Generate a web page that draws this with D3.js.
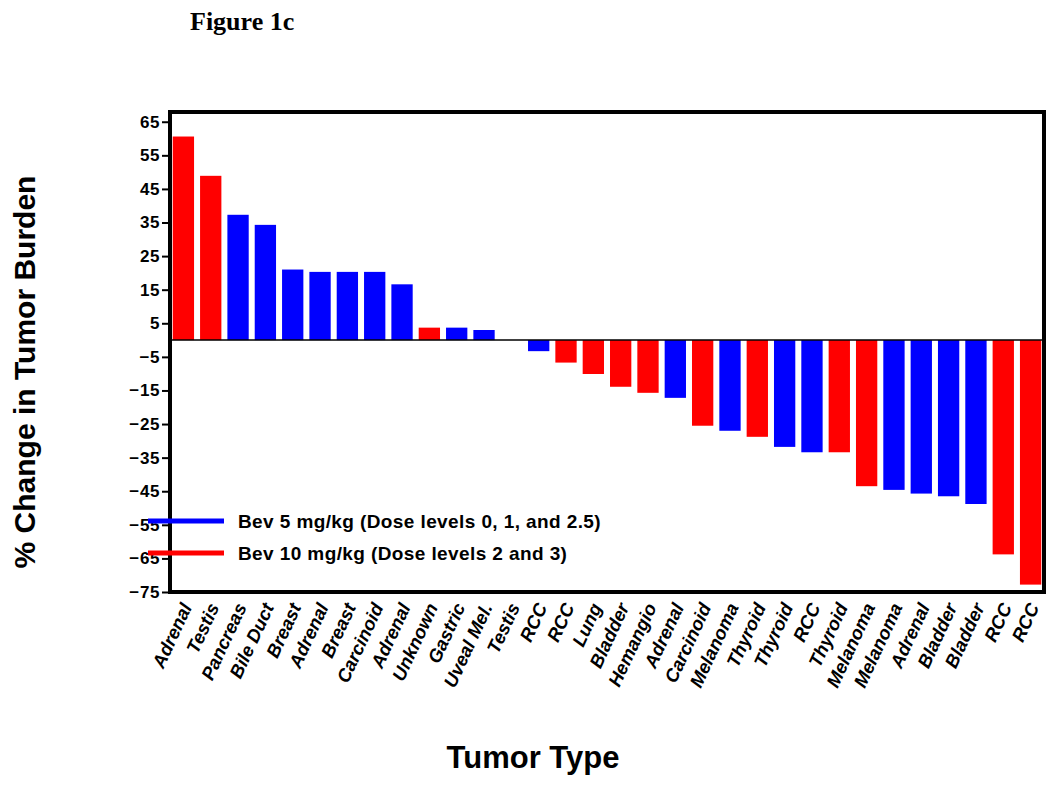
<!DOCTYPE html>
<html><head><meta charset="utf-8">
<script src="https://cdn.jsdelivr.net/npm/d3@7"></script>
<style>body{margin:0;background:#fff}svg{display:block}</style>
</head><body>
<script>
const categories = ["Adrenal","Testis","Pancreas","Bile Duct","Breast","Adrenal","Breast","Carcinoid","Adrenal","Unknown","Gastric","Uveal Mel.","Testis","RCC","RCC","Lung","Bladder","Hemangio","Adrenal","Carcinoid","Melanoma","Thyroid","Thyroid","RCC","Thyroid","Melanoma","Melanoma","Adrenal","Bladder","Bladder","RCC","RCC"];
const values = [60.6,48.9,37.3,34.3,21.0,20.3,20.3,20.3,16.6,3.7,3.7,3.0,0,-3.3,-6.7,-10.1,-13.9,-15.7,-17.2,-25.5,-27.0,-28.8,-31.8,-33.4,-33.4,-43.5,-44.6,-45.7,-46.5,-48.8,-63.8,-72.8];
const groups = ["R","R","B","B","B","B","B","B","B","R","B","B","R","B","R","R","R","R","B","R","B","R","B","B","R","R","B","B","B","B","R","R"];
const yTicks = [65,55,45,35,25,15,5,-5,-15,-25,-35,-45,-55,-65,-75];
const legendLabels = ["Bev 5 mg/kg (Dose levels 0, 1, and 2.5)","Bev 10 mg/kg (Dose levels 2 and 3)"];
const legendKeys = ["B","R"];

const color = {B:"#0000ff", R:"#ff0000"};
const W=1050,H=786;
const font = "Liberation Sans, Arial, sans-serif";
const svg = d3.select("body").append("svg").attr("width",W).attr("height",H);
const L=170,R=1044,T=112,B=592;
const x = d3.scaleBand().domain(d3.range(categories.length)).range([L,R]).paddingInner(0.22).paddingOuter(0.1);
const y = d3.scaleLinear().domain([-75,67.9]).range([B,T]);

svg.append("text").attr("x",190).attr("y",30).attr("font-family","Liberation Serif, Times New Roman, serif")
  .attr("font-weight","bold").attr("font-size",26).text("Figure 1c");

// bars
svg.append("g").selectAll("rect").data(values).join("rect")
  .attr("x",(d,i)=>x(i)).attr("width",x.bandwidth())
  .attr("y",d=>y(Math.max(0,d))).attr("height",d=>Math.abs(y(d)-y(0)))
  .attr("fill",(d,i)=>color[groups[i]]);

// zero line
svg.append("line").attr("x1",L).attr("x2",R).attr("y1",y(0)).attr("y2",y(0)).attr("stroke","#000").attr("stroke-width",1.5);

// frame
svg.append("rect").attr("x",L).attr("y",T).attr("width",R-L).attr("height",B-T)
  .attr("fill","none").attr("stroke","#000").attr("stroke-width",4);

// y axis
const yAxis = svg.append("g").attr("transform",`translate(${L},0)`)
  .call(d3.axisLeft(y).tickValues(yTicks).tickSize(8).tickPadding(2).tickFormat(d=>d<0?"\u2212"+(-d):d));
yAxis.select(".domain").remove();
yAxis.selectAll("line").attr("stroke","#000").attr("stroke-width",2);
yAxis.selectAll("text").attr("font-family",font).attr("font-weight","bold")
  .attr("font-size",17).attr("fill","#000").attr("letter-spacing",0.6);

// x axis labels
const xAxis = svg.append("g").attr("transform",`translate(0,${B})`)
  .call(d3.axisBottom(x).tickSize(0).tickFormat(i=>categories[i]));
xAxis.select(".domain").remove();
xAxis.selectAll("text").attr("font-family",font).attr("font-weight","bold")
  .attr("font-style","italic").attr("font-size",18.5).attr("fill","#000")
  .attr("text-anchor","end").attr("dy",0).attr("y",0)
  .attr("transform","translate(9,15) rotate(-65)");

// legend
legendLabels.forEach((lab,i)=>{
  const yy = 521 + i*32;
  svg.append("line").attr("x1",148).attr("x2",224).attr("y1",yy).attr("y2",yy)
    .attr("stroke",color[legendKeys[i]]).attr("stroke-width",5);
  svg.append("text").attr("x",238).attr("y",yy+6.5).attr("font-family",font)
    .attr("font-weight","bold").attr("font-size",19).attr("letter-spacing",0.4).text(lab);
});

// axis titles
svg.append("text").attr("transform","translate(35,372) rotate(-90)").attr("text-anchor","middle")
  .attr("font-family",font).attr("font-weight","bold").attr("font-size",30)
  .text("% Change in Tumor Burden");
svg.append("text").attr("x",533).attr("y",768).attr("text-anchor","middle")
  .attr("font-family",font).attr("font-weight","bold").attr("font-size",31)
  .text("Tumor Type");
</script>
</body></html>
